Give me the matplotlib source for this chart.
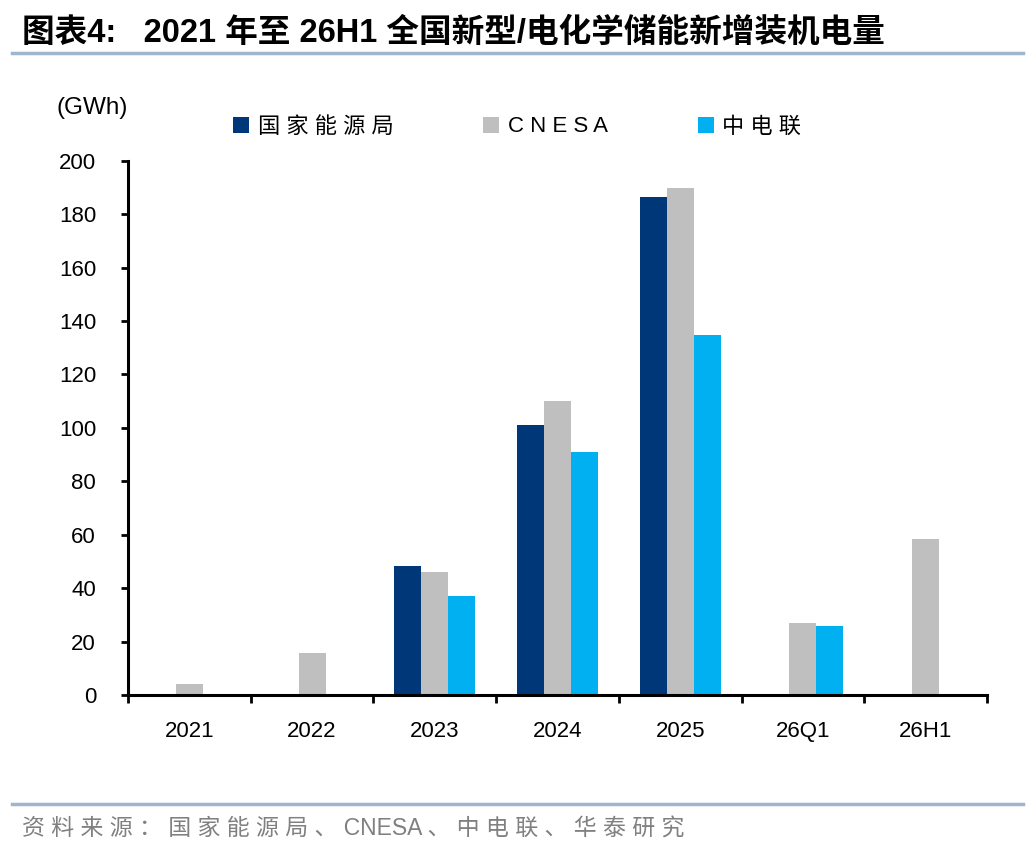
import numpy as np
import matplotlib
matplotlib.use("Agg")
import matplotlib.pyplot as plt
from matplotlib.lines import Line2D

plt.rcParams['font.family'] = ['Liberation Sans', 'Noto Sans CJK SC', 'DejaVu Sans']

# data (GWh)
categories = ['2021', '2022', '2023', '2024', '2025', '26Q1', '26H1']
nea = [np.nan, np.nan, 48.2, 101.0, 186.5, np.nan, np.nan]      # 国家能源局
cnesa = [4.3, 15.6, 45.9, 110.0, 189.8, 26.8, 58.3]            # CNESA
cec = [np.nan, np.nan, 36.9, 90.9, 134.7, 25.7, np.nan]         # 中电联
series_names = ['国家能源局', 'CNESA', '中电联']
colors = ['#003778', '#BFBFBF', '#00B0F0']

fig = plt.figure(figsize=(10.36, 8.52), dpi=100)
ax = fig.add_axes([128/1036, 1-695/852, (987-128)/1036, (695-160.7)/852])

x = np.arange(len(categories))
w = 0.22
for k, (vals, c, name) in enumerate(zip([nea, cnesa, cec], colors, series_names)):
    ax.bar(x + (k-1)*w, vals, width=w, color=c, label=name, linewidth=0)

ax.set_xlim(-0.5, len(categories)-0.5)
ax.set_ylim(0, 200)
ax.set_yticks(np.arange(0, 201, 20))
ax.set_xticks(np.arange(-0.5, len(categories), 1.0))
ax.set_xticklabels([])
ax.set_xticks(x, minor=True)
ax.set_xticklabels(categories, minor=True)

for s in ['top', 'right']:
    ax.spines[s].set_visible(False)
for s in ['left', 'bottom']:
    ax.spines[s].set_linewidth(2.2)
ax.tick_params(axis='y', length=5, width=2, labelsize=16, pad=18)
ax.tick_params(axis='x', which='major', length=6, width=2, direction='out')
ax.tick_params(axis='x', which='minor', length=0, labelsize=16, pad=19)

fig.text(57/1036, 1-108/852, '(GWh)', fontsize=17.5, va='center', ha='left')

# legend
handles = [Line2D([], [], marker='s', linestyle='none', markersize=11,
                  markerfacecolor=c, markeredgewidth=0) for c in colors]
labels = ['国 家 能 源 局', 'C N E S A', '中 电 联']
fig.legend(handles, labels, loc='center left', bbox_to_anchor=(221/1036, 1-127/852),
           ncol=3, frameon=False, fontsize=16, handlelength=0.8, handletextpad=0.35,
           columnspacing=4.0, borderpad=0)

# title and rules
fig.text(22/1036, 1-33/852, '图表4:   2021 年至 26H1 全国新型/电化学储能新增装机电量',
         fontsize=23.5, fontweight='bold', va='center', ha='left')
fig.add_artist(Line2D([12/1036, 1023/1036], [1-53/852, 1-53/852], color='#9FB6CF', lw=2.5))
fig.add_artist(Line2D([12/1036, 1023/1036], [1-804/852, 1-804/852], color='#9FB6CF', lw=2.5))
fig.text(22/1036, 1-829/852, '资 料 来 源 ： 国 家 能 源 局 、 CNESA 、 中 电 联 、 华 泰 研 究',
         fontsize=16.5, color='#808080', va='center', ha='left')

fig.savefig('out.png', dpi=100)
